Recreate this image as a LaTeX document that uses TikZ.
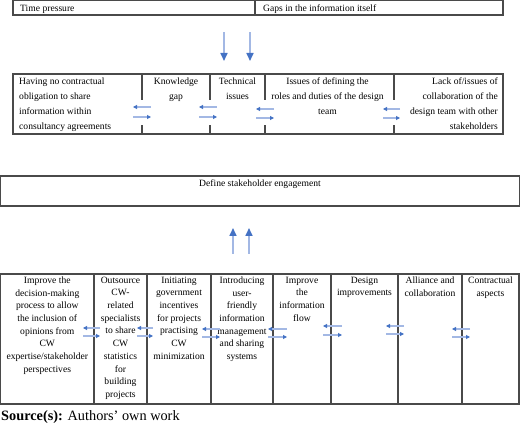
\documentclass[tikz,border=0pt]{standalone}
\usepackage{fontspec}
\setmainfont{Liberation Serif}
\usetikzlibrary{arrows.meta}
\definecolor{bord}{HTML}{4A4A4A}
\definecolor{shaft}{HTML}{A3B8E4}
\definecolor{head}{HTML}{4472C4}
\tikzset{
  cellbox/.style={draw=bord, line width=1.2pt, rectangle, inner sep=0pt, outer sep=0pt, anchor=north west},
  cell/.style={rectangle, inner sep=0pt, outer sep=0pt, anchor=north west},
  txtA/.style={inner sep=0pt, font=\fontsize{9.6}{15}\selectfont},
  txtB/.style={inner sep=0pt, font=\fontsize{9.6}{12.7}\selectfont, align=center, anchor=north},
  varr/.style={draw=shaft, line width=1.6pt, -{Triangle[width=7pt,length=8pt,color=head]}},
  harr/.style={draw=shaft, line width=1.3pt, -{Triangle[width=4pt,length=4pt,color=head]}},
  divl/.style={draw=bord, line width=1.2pt},
}
\newcommand\pairarr[6]{%
  \draw[harr] ([xshift=#4pt,yshift=#5pt]#2.west) -- ([xshift=#3pt,yshift=#5pt]#1.east);
  \draw[harr] ([xshift=#3pt,yshift=#6pt]#1.east) -- ([xshift=#4pt,yshift=#6pt]#2.west);}
\begin{document}
\begin{tikzpicture}[x=1pt,y=-1pt]
\useasboundingbox (0,0) rectangle (520,425);

% top row
\node[cellbox, minimum width=242pt, minimum height=14.5pt] (tp) at (13,0.6) {};
\node[cellbox, minimum width=248pt, minimum height=14.5pt] (gi) at (tp.north east) {};
\node[txtA, anchor=base west] (tpt) at ([xshift=7pt,yshift=-10.6pt]tp.north west) {Time pressure};
\node[txtA, anchor=base west] (git) at ([xshift=8pt,yshift=-10.6pt]gi.north west) {Gaps in the information itself};

% second box
\node[cellbox, minimum width=490pt, minimum height=60pt] (pb) at (13,74) {};
\node[cell, minimum width=129pt, minimum height=60pt] (c1) at (13,74) {};
\node[cell, minimum width=68pt, minimum height=60pt] (c2) at (142,74) {};
\node[cell, minimum width=55pt, minimum height=60pt] (c3) at (210,74) {};
\node[cell, minimum width=129pt, minimum height=60pt] (c4) at (265,74) {};
\node[cell, minimum width=109pt, minimum height=60pt] (c5) at (394,74) {};
\foreach \c in {c1,c2,c3,c4}{
  \draw[divl] (\c.north east) -- ++(0,26) (\c.south east) -- ++(0,-9);
}
\node[txtA, anchor=north west, align=left] (t1) at ([xshift=6pt,yshift=-3.4pt]c1.north west)
  {Having no contractual\\obligation to share\\information within\\consultancy agreements};
\node[txtA, anchor=north, align=center] (t2) at ([yshift=-3.4pt]c2.north) {Knowledge\\gap};
\node[txtA, anchor=north, align=center] (t3) at ([yshift=-3.4pt]c3.north) {Technical\\issues};
\node[txtA, anchor=north, align=center] (t4) at ([xshift=-2pt,yshift=-3.4pt]c4.north)
  {Issues of defining the\\roles and duties of the design\\team};
\node[txtA, anchor=north east, align=right] (t5) at ([xshift=-5pt,yshift=-3.4pt]c5.north east)
  {Lack of/issues of\\collaboration of the\\design team with other\\stakeholders};
\pairarr{c1}{c2}{-9}{9}{-3}{-13}
\pairarr{c2}{c3}{-11}{7}{-3}{-13}
\pairarr{c3}{c4}{-9}{9}{-5}{-14}
\pairarr{c4}{c5}{-11}{6}{-5}{-14}

% arrows down
\draw[varr] ([xshift=-31pt,yshift=-17pt]tp.south east) -- ([xshift=14pt,yshift=13pt]c3.north west);
\draw[varr] ([xshift=-5pt,yshift=-17pt]tp.south east) -- ([xshift=40pt,yshift=13pt]c3.north west);

% define box
\node[cellbox, line width=1.5pt, minimum width=518.6pt, minimum height=30pt] (ds) at (0.7,176) {};
\node[txtA, anchor=base] (dst) at ([yshift=-11pt]ds.north) {Define stakeholder engagement};

% bottom box
\node[cellbox, minimum width=518.4pt, minimum height=130pt] (bb) at (0.6,274) {};
\node[cell, minimum width=93.4pt, minimum height=130pt] (e1) at (0.6,274) {};
\node[cell, minimum width=53pt, minimum height=130pt] (e2) at (94,274) {};
\node[cell, minimum width=64pt, minimum height=130pt] (e3) at (147,274) {};
\node[cell, minimum width=62pt, minimum height=130pt] (e4) at (211,274) {};
\node[cell, minimum width=58pt, minimum height=130pt] (e5) at (273,274) {};
\node[cell, minimum width=67pt, minimum height=130pt] (e6) at (331,274) {};
\node[cell, minimum width=64pt, minimum height=130pt] (e7) at (398,274) {};
\node[cell, minimum width=57pt, minimum height=130pt] (e8) at (462,274) {};
\foreach \c in {e1,e2,e3,e4,e5,e6,e7}{
  \draw[divl] (\c.north east) -- (\c.south east);
}
\node[txtB] (u1) at ([yshift=-2.6pt]e1.north) {Improve the\\decision-making\\process to allow\\the inclusion of\\opinions from\\CW\\expertise/stakeholder\\perspectives};
\node[txtB] (u2) at ([yshift=-2.6pt]e2.north) {Outsource\\CW-\\related\\specialists\\to share\\CW\\statistics\\for\\building\\projects};
\node[txtB] (u3) at ([yshift=-2.6pt]e3.north) {Initiating\\government\\incentives\\for projects\\practising\\CW\\minimization};
\node[txtB] (u4) at ([yshift=-2.6pt]e4.north) {Introducing\\user-\\friendly\\information\\management\\and sharing\\systems};
\node[txtB] (u5) at ([yshift=-2.6pt]e5.north) {Improve\\the\\information\\flow};
\node[txtB] (u6) at ([yshift=-2.6pt]e6.north) {Design\\improvements};
\node[txtB] (u7) at ([yshift=-2.6pt]e7.north) {Alliance and\\collaboration};
\node[txtB] (u8) at ([yshift=-2.6pt]e8.north) {Contractual\\aspects};
\pairarr{e1}{e2}{-11}{6}{11}{3}
\pairarr{e2}{e3}{-10}{6}{11}{3}
\pairarr{e3}{e4}{-9}{9}{10}{2}
\pairarr{e4}{e5}{-5}{14}{10}{2}
\pairarr{e5}{e6}{-8}{11}{13}{4}
\pairarr{e6}{e7}{-12}{6}{13}{5}
\pairarr{e7}{e8}{-10}{8}{10}{2}

% arrows up
\draw[varr] ([xshift=22pt,yshift=20pt]e4.north west) -- ([xshift=22pt,yshift=-22pt]e4.north west |- ds.south);
\draw[varr] ([xshift=38pt,yshift=20pt]e4.north west) -- ([xshift=38pt,yshift=-22pt]e4.north west |- ds.south);

% source
\node[inner sep=0pt, anchor=base west, font=\fontsize{14.3}{16}\selectfont] (src) at (1,420)
  {\textbf{Source(s):} Authors’ own work};
\end{tikzpicture}
\end{document}
